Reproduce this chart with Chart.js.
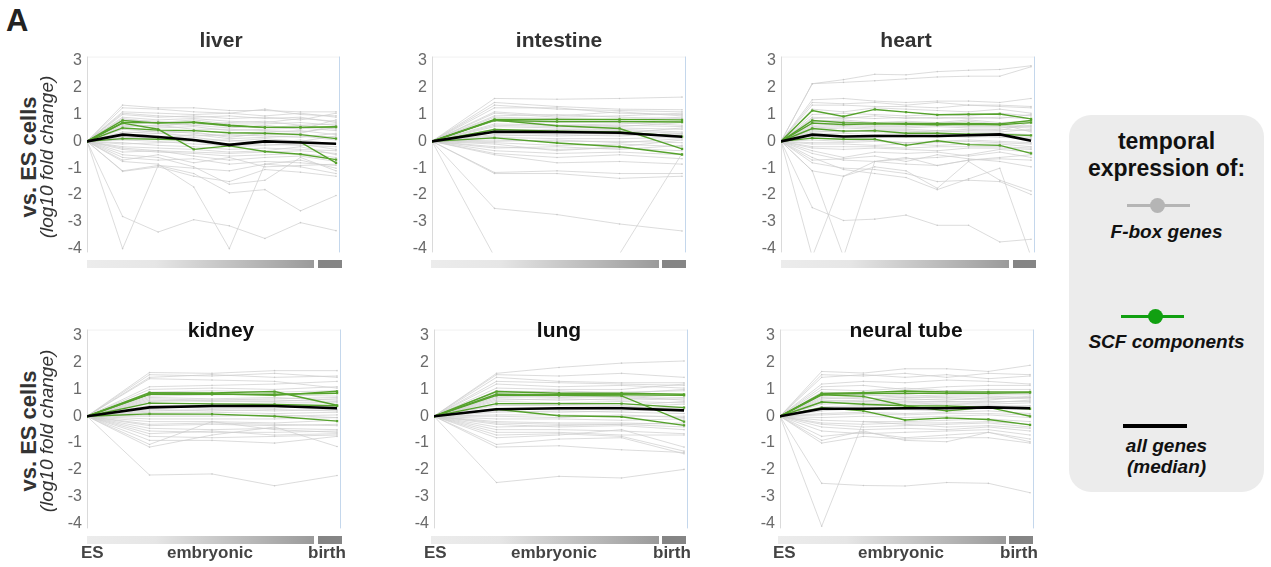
<!DOCTYPE html>
<html>
<head>
<meta charset="utf-8">
<script src="https://cdn.jsdelivr.net/npm/chart.js@4.4.1/dist/chart.umd.min.js"></script>
<style>
    body { margin: 0; background: #fff; font-family: "Liberation Sans", Arial, sans-serif; }
    #wrap { position: relative; width: 1271px; height: 567px; overflow: hidden; }
    canvas { position: absolute; }
    .lbl { position: absolute; white-space: nowrap; }
    .title { font-size: 21px; font-weight: bold; line-height: 24px; width: 200px; text-align: center; }
    .ytitle { width: 240px; text-align: center; transform: rotate(-90deg); color: #333; }
    .stage { font-size: 17px; font-weight: bold; color: #444; line-height: 20px; }
    .bar { position: absolute; height: 8px; }
    #legend { position: absolute; left: 1069px; top: 115px; width: 195px; height: 377px;
              background: #ececec; border-radius: 22px; }
    #legend .lbl { width: 195px; text-align: center; left: 0; color: #111; }
</style>
</head>
<body>
<div id="wrap">
    <div class="lbl" style="left:6px;top:3px;font-size:31px;font-weight:bold;color:#222;">A</div>
    <div id="legend">
        <div class="lbl" style="top:13px;font-size:23px;font-weight:bold;line-height:27px;">temporal<br>expression of:</div>
        <div style="position:absolute;left:58px;top:89px;width:63px;height:3px;background:#b5b5b5;"></div>
        <div style="position:absolute;left:81px;top:83px;width:15px;height:15px;border-radius:50%;background:#b5b5b5;"></div>
        <div class="lbl" style="top:106px;font-size:19px;font-weight:bold;font-style:italic;">F-box genes</div>
        <div style="position:absolute;left:52px;top:200px;width:63px;height:3px;background:#11a011;"></div>
        <div style="position:absolute;left:79px;top:194px;width:15px;height:15px;border-radius:50%;background:#11a011;"></div>
        <div class="lbl" style="top:216px;font-size:19px;font-weight:bold;font-style:italic;">SCF components</div>
        <div style="position:absolute;left:54px;top:309px;width:64px;height:4px;background:#000;"></div>
        <div class="lbl" style="top:320px;font-size:19px;font-weight:bold;font-style:italic;line-height:21px;">all genes<br>(median)</div>
    </div>
</div>

<script>
const tissues = ["liver", "intestine", "heart", "kidney", "lung", "neural tube"];
const yTicks = [-4, -3, -2, -1, 0, 1, 2, 3];
const stageLabels = ["ES", "embryonic", "birth"];

// liver: 8 time points
const liverFbox = [
    [0, -4.0, -0.9, -1.0, -1.1, -0.85, -0.7, -1.0],
    [0, -2.8, -3.38, -2.92, -3.15, -3.62, -3.03, -3.33],
    [0, -0.75, -0.85, -1.7, -4.0, -0.85, -0.95, -1.2],
    [0, -1.1, -0.9, -1.2, -1.92, -1.8, -2.59, -2.02],
    [0, -1.12, -0.95, -1.3, -1.5, -1.05, -1.15, -1.3],
    [0, -0.5, -0.6, -0.95, -1.6, -1.45, -0.6, -1.1],
    [0, 1.35, 1.25, 1.25, 1.15, 1.15, 1.1, 1.1],
    [0, 1.25, 1.2, 1.1, 1.05, 1.2, 1.0, 0.95],
    [0, 1.1, 1.05, 1.0, 1.05, 0.95, 1.05, 0.9],
    [0, 1.0, 0.9, 0.95, 0.85, 0.9, 0.8, 1.05],
    [0, 0.9, 0.8, 0.85, 0.75, 0.7, 0.85, 0.75],
    [0, 0.8, 0.75, 0.6, 0.7, 0.75, 0.6, 0.65],
    [0, 0.65, 0.55, 0.7, 0.55, 0.5, 0.6, 0.45],
    [0, 0.55, 0.6, 0.45, 0.45, 0.4, 0.35, 0.5],
    [0, 0.45, 0.35, 0.4, 0.3, 0.35, 0.4, 0.25],
    [0, 0.35, 0.3, 0.2, 0.25, 0.2, 0.15, 0.3],
    [0, 0.25, 0.15, 0.25, 0.1, 0.15, 0.2, 0.05],
    [0, 0.15, 0.1, 0.05, 0.05, -0.05, 0.05, -0.1],
    [0, 0.05, 0.0, -0.1, -0.15, -0.1, -0.15, -0.2],
    [0, -0.05, -0.15, -0.2, -0.3, -0.25, -0.3, -0.35],
    [0, -0.2, -0.25, -0.3, -0.4, -0.35, -0.2, -0.5],
    [0, -0.3, -0.4, -0.45, -0.55, -0.5, -0.45, -0.6],
    [0, -0.4, -0.35, -0.55, -0.7, -0.6, -0.55, -0.75],
    [0, -0.6, -0.7, -0.65, -0.85, -0.75, -0.8, -0.9],
    [0, -0.7, -0.5, -0.8, -0.6, -0.95, -0.9, -0.85],
    [0, 0.7, 0.65, 0.6, 0.5, 0.6, 0.45, 0.8],
    [0, 1.05, 0.95, 0.9, 0.95, 0.85, 0.9, 0.7],
    [0, 0.2, 0.3, 0.35, 0.15, 0.3, 0.3, 0.6],
    [0, 0.6, 0.5, 0.55, 0.4, 0.45, 0.5, 0.4],
    [0, 0.3, 0.4, 0.3, 0.2, 0.25, 0.25, 0.15],
    [0, 0.1, 0.2, 0.15, 0.0, 0.1, 0.0, 0.2],
    [0, -0.1, -0.05, 0.0, -0.2, -0.15, -0.1, -0.3],
    [0, -0.25, -0.35, -0.4, -0.45, -0.4, -0.35, -0.45],
    [0, 0.85, 0.7, 0.8, 0.65, 0.65, 0.7, 0.6]
];
const liverScf = [
    [0, 0.78, 0.68, 0.72, 0.60, 0.52, 0.52, 0.53],
    [0, 0.70, 0.70, 0.70, 0.58, 0.52, 0.52, 0.55],
    [0, 0.68, 0.45, -0.30, -0.17, -0.38, -0.48, -0.68],
    [0, 0.50, 0.42, 0.40, 0.32, 0.30, 0.25, 0.10],
    [0, 0.10, 0.08, 0.05, -0.12, 0.00, -0.03, -0.80]
];
const liverMedian = [0, 0.25, 0.16, 0.05, -0.13, 0.0, -0.04, -0.09];

// intestine: 5 time points
const intestineFbox = [
    [0, 1.6, 1.57, 1.6, 1.65],
    [0, 1.45, 1.3, 1.2, 1.18],
    [0, 1.35, 1.2, 1.15, 1.1],
    [0, 1.25, 1.25, 1.05, 1.0],
    [0, 1.1, 0.95, 1.1, 0.95],
    [0, 0.95, 1.0, 0.9, 0.85],
    [0, 0.9, 0.85, 0.8, 0.9],
    [0, 0.75, 0.7, 0.7, 0.6],
    [0, 0.65, 0.6, 0.55, 0.7],
    [0, 0.55, 0.5, 0.5, 0.45],
    [0, 0.45, 0.4, 0.45, 0.35],
    [0, 0.35, 0.3, 0.3, 0.5],
    [0, 0.25, 0.2, 0.25, 0.25],
    [0, 0.15, 0.1, 0.1, 0.15],
    [0, 0.05, 0.0, 0.0, -0.05],
    [0, -0.05, -0.15, -0.1, -0.2],
    [0, -0.2, -0.3, -0.25, -0.35],
    [0, -0.35, -0.45, -0.4, -0.5],
    [0, -0.45, -0.6, -0.5, -0.65],
    [0, -0.5, -0.8, -0.75, -0.85],
    [0, -1.16, -1.1, -1.2, -1.2],
    [0, -1.2, -1.2, -1.38, -1.3],
    [0, -2.5, -2.73, -3.08, -3.34],
    [0, -4.3, -5.0, -4.2, -0.45],
    [0, 0.8, 0.6, 0.65, 0.75],
    [0, -0.1, -0.35, -0.2, 0.05],
    [0, 0.6, 0.55, 0.6, 0.55],
    [0, 0.4, 0.45, 0.4, 0.3],
    [0, 0.2, 0.25, 0.2, 0.3],
    [0, 0.0, 0.05, -0.05, 0.1],
    [0, -0.25, -0.2, -0.3, -0.15],
    [0, 1.05, 0.9, 0.95, 1.05]
];
const intestineScf = [
    [0, 0.82, 0.82, 0.82, 0.80],
    [0, 0.78, 0.74, 0.74, 0.72],
    [0, 0.79, 0.58, 0.48, -0.28],
    [0, 0.44, 0.38, 0.35, 0.18],
    [0, 0.13, -0.06, -0.20, -0.49]
];
const intestineMedian = [0, 0.36, 0.35, 0.32, 0.17];

// heart: 9 time points
const heartFbox = [
    [0, 2.15, 2.3, 2.5, 2.48, 2.6, 2.65, 2.68, 2.82],
    [0, 2.15, 2.2, 2.26, 2.33, 2.4, 2.43, 2.43, 2.78],
    [0, -2.47, -2.95, -2.9, -2.75, -3.13, -3.13, -3.75, -3.65],
    [0, -4.3, -1.3, -0.75, -0.85, -0.9, -0.7, -0.6, -0.5],
    [0, -1.1, -4.3, -0.75, -0.65, -0.6, -0.5, -0.3, -0.4],
    [0, -0.6, -1.05, -1.2, -1.35, -1.8, -1.4, -1.0, -4.3],
    [0, -1.1, -1.3, -0.95, -1.1, -1.75, -0.75, -1.45, -1.85],
    [0, -0.8, -1.0, -1.05, -1.2, -1.5, -1.45, -1.5, -1.98],
    [0, 1.55, 1.6, 1.5, 1.45, 1.5, 1.5, 1.45, 1.6],
    [0, 1.45, 1.4, 1.45, 1.35, 1.45, 1.35, 1.35, 1.3],
    [0, 1.35, 1.35, 1.3, 1.3, 1.25, 1.35, 1.3, 1.25],
    [0, 1.2, 1.1, 1.25, 1.2, 1.15, 1.1, 1.2, 1.05],
    [0, 1.0, 1.05, 1.0, 0.95, 1.0, 0.95, 1.05, 0.95],
    [0, 0.9, 0.85, 0.95, 0.85, 0.9, 0.85, 0.9, 0.85],
    [0, 0.75, 0.8, 0.7, 0.75, 0.7, 0.8, 0.7, 0.75],
    [0, 0.6, 0.65, 0.6, 0.6, 0.65, 0.6, 0.6, 0.55],
    [0, 0.5, 0.55, 0.5, 0.5, 0.55, 0.5, 0.5, 0.6],
    [0, 0.4, 0.35, 0.4, 0.4, 0.35, 0.4, 0.45, 0.4],
    [0, 0.3, 0.3, 0.25, 0.3, 0.3, 0.3, 0.3, 0.25],
    [0, 0.2, 0.15, 0.15, 0.2, 0.15, 0.2, 0.15, 0.1],
    [0, 0.05, 0.0, 0.05, -0.05, 0.0, 0.05, 0.0, -0.05],
    [0, -0.1, -0.1, -0.15, -0.1, -0.15, -0.1, -0.1, -0.2],
    [0, -0.25, -0.3, -0.25, -0.3, -0.35, -0.25, -0.25, -0.3],
    [0, -0.35, -0.6, -0.4, -0.45, -0.4, -0.55, -0.4, -0.6],
    [0, -0.45, -0.7, -0.75, -0.6, -0.9, -0.7, -0.65, -0.7],
    [0, -0.7, -0.65, -0.55, -0.75, -0.5, -0.65, -0.75, -0.95],
    [0, 0.7, 0.75, 0.65, 0.7, 0.65, 0.75, 0.65, 0.35],
    [0, 0.45, 0.5, 0.45, 0.45, 0.4, 0.45, 0.4, 0.7],
    [0, 0.55, 0.6, 0.55, 0.55, 0.6, 0.55, 0.55, 0.5],
    [0, 0.35, 0.4, 0.35, 0.35, 0.4, 0.35, 0.35, 0.45],
    [0, 0.15, 0.2, 0.2, 0.15, 0.2, 0.15, 0.2, 0.15],
    [0, -0.05, -0.05, 0.0, -0.05, -0.05, 0.0, -0.05, -0.1],
    [0, -0.2, -0.2, -0.2, -0.25, -0.2, -0.2, -0.2, -0.25],
    [0, 0.85, 0.9, 0.85, 0.9, 0.85, 0.9, 0.85, 1.0]
];
const heartScf = [
    [0, 1.15, 0.93, 1.19, 1.09, 0.99, 1.01, 1.02, 0.84],
    [0, 0.78, 0.70, 0.68, 0.67, 0.67, 0.67, 0.65, 0.78],
    [0, 0.68, 0.63, 0.65, 0.64, 0.62, 0.64, 0.62, 0.70],
    [0, 0.48, 0.38, 0.40, 0.30, 0.30, 0.27, 0.26, 0.22],
    [0, 0.12, 0.08, 0.08, -0.15, 0.02, -0.12, -0.15, -0.45]
];
const heartMedian = [0, 0.25, 0.18, 0.20, 0.20, 0.20, 0.23, 0.26, 0.02];

// kidney: 5 time points
const kidneyFbox = [
    [0, 1.63, 1.6, 1.7, 1.7],
    [0, 1.55, 1.5, 1.6, 1.45],
    [0, 1.45, 1.55, 1.45, 1.5],
    [0, 1.4, 1.35, 1.3, 1.05],
    [0, 1.0, 1.05, 1.0, 1.1],
    [0, 0.9, 0.95, 0.9, 0.95],
    [0, 0.75, 0.8, 0.8, 0.75],
    [0, 0.7, 0.65, 0.7, 0.6],
    [0, 0.6, 0.55, 0.55, 0.65],
    [0, 0.5, 0.45, 0.5, 0.5],
    [0, 0.35, 0.3, 0.3, 0.4],
    [0, 0.25, 0.2, 0.25, 0.2],
    [0, 0.15, 0.15, 0.1, 0.15],
    [0, 0.05, 0.05, 0.0, 0.05],
    [0, -0.1, -0.1, -0.1, -0.05],
    [0, -0.2, -0.2, -0.25, -0.15],
    [0, -0.35, -0.3, -0.35, -0.3],
    [0, -0.45, -0.5, -0.45, -0.5],
    [0, -0.55, -0.6, -0.6, -0.55],
    [0, -0.65, -0.55, -0.7, -0.65],
    [0, -0.75, -0.8, -0.75, -0.7],
    [0, -0.9, -0.9, -1.0, -0.75],
    [0, -1.05, -0.2, -0.5, -0.6],
    [0, -1.15, -0.7, -0.4, -1.13],
    [0, -2.19, -2.15, -2.59, -2.21],
    [0, 1.1, 1.15, 1.2, 1.3],
    [0, 0.65, 0.6, 0.65, 0.7],
    [0, 0.4, 0.4, 0.4, 0.35],
    [0, 0.2, 0.25, 0.2, 0.25],
    [0, 0.0, 0.0, 0.05, -0.05],
    [0, -0.3, -0.25, -0.3, -0.35],
    [0, 0.55, 0.6, 0.6, 0.55]
];
const kidneyScf = [
    [0, 0.88, 0.87, 0.92, 0.41],
    [0, 0.83, 0.84, 0.78, 0.93],
    [0, 0.82, 0.82, 0.82, 0.86],
    [0, 0.49, 0.46, 0.44, 0.39],
    [0, 0.09, 0.08, 0.00, -0.18]
];
const kidneyMedian = [0, 0.33, 0.38, 0.38, 0.30];

// lung: 5 time points
const lungFbox = [
    [0, 1.6, 1.82, 1.98, 2.06],
    [0, 1.55, 1.5, 1.6, 1.45],
    [0, 1.45, 1.3, 1.25, 1.25],
    [0, 1.3, 1.25, 1.2, 1.15],
    [0, 1.2, 1.1, 1.15, 1.05],
    [0, 1.05, 1.0, 1.0, 1.2],
    [0, 0.95, 0.9, 0.9, 0.95],
    [0, 0.7, 0.75, 0.7, 0.8],
    [0, 0.6, 0.65, 0.6, 0.65],
    [0, 0.55, 0.5, 0.55, 0.5],
    [0, 0.4, 0.4, 0.35, 0.45],
    [0, 0.3, 0.25, 0.3, 0.35],
    [0, 0.15, 0.2, 0.15, 0.1],
    [0, 0.05, 0.05, 0.0, 0.0],
    [0, -0.1, -0.1, -0.15, -0.1],
    [0, -0.2, -0.25, -0.25, -0.3],
    [0, -0.3, -0.4, -0.35, -0.5],
    [0, -0.5, -0.5, -0.55, -0.65],
    [0, -0.6, -0.6, -0.7, -0.7],
    [0, -0.7, -0.65, -0.75, -1.3],
    [0, -1.05, -0.85, -0.8, -1.4],
    [0, -1.15, -1.1, -1.25, -1.35],
    [0, -0.8, -0.7, -0.5, -1.15],
    [0, -2.47, -2.24, -2.3, -1.98],
    [0, 0.85, 0.95, 0.85, 1.0],
    [0, -0.4, -0.35, -0.3, -0.25],
    [0, 0.65, 0.6, 0.65, 0.7],
    [0, 0.45, 0.45, 0.4, 0.55],
    [0, 0.2, 0.15, 0.2, 0.25],
    [0, 0.0, -0.05, 0.05, -0.05],
    [0, -0.25, -0.3, -0.3, -0.4],
    [0, 0.75, 0.7, 0.75, 0.6]
];
const lungScf = [
    [0, 0.92, 0.86, 0.86, 0.82],
    [0, 0.82, 0.80, 0.80, 0.78],
    [0, 0.78, 0.78, 0.76, -0.20],
    [0, 0.47, 0.47, 0.47, 0.32],
    [0, 0.26, 0.02, -0.02, -0.34]
];
const lungMedian = [0, 0.26, 0.30, 0.30, 0.22];

// neural tube: 7 time points
const neuralFbox = [
    [0, 1.67, 1.61, 1.77, 1.77, 1.67, 1.9],
    [0, 1.55, 1.5, 1.6, 1.45, 1.6, 1.55],
    [0, 1.45, 1.55, 1.45, 1.55, 1.4, 1.5],
    [0, 1.2, 1.3, 1.25, 1.35, 1.3, 1.2],
    [0, 1.1, 1.15, 1.0, 1.1, 1.15, 1.15],
    [0, 1.0, 0.95, 1.05, 0.95, 1.0, 1.0],
    [0, 0.9, 0.85, 0.85, 0.85, 0.9, 0.85],
    [0, 0.75, 0.8, 0.7, 0.75, 0.75, 0.7],
    [0, 0.65, 0.7, 0.6, 0.65, 0.6, 0.75],
    [0, 0.55, 0.6, 0.55, 0.55, 0.5, 0.6],
    [0, 0.45, 0.5, 0.45, 0.5, 0.45, 0.5],
    [0, 0.35, 0.4, 0.4, 0.45, 0.4, 0.35],
    [0, 0.2, 0.3, 0.25, 0.2, 0.3, 0.25],
    [0, 0.1, 0.15, 0.1, 0.15, 0.2, 0.1],
    [0, -0.05, 0.0, -0.05, 0.0, 0.05, -0.05],
    [0, -0.15, -0.2, -0.2, -0.15, -0.1, -0.2],
    [0, -0.3, -0.4, -0.35, -0.3, -0.25, -0.4],
    [0, -0.4, -0.5, -0.45, -0.5, -0.4, -0.55],
    [0, -0.55, -0.65, -0.6, -0.55, -0.5, -0.7],
    [0, -0.75, -0.6, -0.8, -0.7, -0.6, -0.85],
    [0, -0.9, -0.55, -0.9, -0.95, -0.6, -0.95],
    [0, -1.0, -0.75, -0.85, -0.8, -0.8, -1.0],
    [0, -4.1, -0.2, -0.3, -0.4, -0.35, -0.45],
    [0, -2.5, -2.58, -2.6, -2.47, -2.5, -2.85],
    [0, 0.8, 0.9, 0.8, 0.95, 0.85, 0.9],
    [0, 0.6, 0.55, 0.65, 0.6, 0.7, 0.65],
    [0, 0.7, 0.65, 0.7, 0.7, 0.65, 0.7],
    [0, 0.5, 0.55, 0.5, 0.55, 0.55, 0.55],
    [0, 0.3, 0.35, 0.3, 0.35, 0.35, 0.4],
    [0, 0.05, 0.1, 0.05, 0.1, 0.1, 0.05],
    [0, -0.25, -0.3, -0.25, -0.25, -0.2, -0.3],
    [0, 0.85, 0.8, 0.75, 0.8, 0.8, 0.8]
];
const neuralScf = [
    [0, 0.85, 0.88, 0.94, 0.91, 0.91, 0.91],
    [0, 0.82, 0.85, 0.86, 0.86, 0.86, 0.88],
    [0, 0.80, 0.74, 0.39, 0.20, 0.33, 0.00],
    [0, 0.53, 0.45, 0.39, 0.38, 0.33, 0.28],
    [0, 0.32, 0.20, -0.14, -0.06, -0.12, -0.32]
];
const neuralMedian = [0, 0.28, 0.28, 0.30, 0.30, 0.33, 0.30];

const fboxSets = [liverFbox, intestineFbox, heartFbox, kidneyFbox, lungFbox, neuralFbox];
const scfSets = [liverScf, intestineScf, heartScf, kidneyScf, lungScf, neuralScf];
const medianSets = [liverMedian, intestineMedian, heartMedian, kidneyMedian, lungMedian, neuralMedian];

// layout of the six panels (pixels)
const panels = [
    { left: 87, right: 344, top: 52, bottom: 257, ymin: -4.14, ymax: 3.16, tx: 221, ty: 28, tc: "#333", bar: [87, 314, 318, 342, 260] },
    { left: 432, right: 690, top: 52, bottom: 257, ymin: -4.14, ymax: 3.16, tx: 559, ty: 28, tc: "#333", bar: [431, 659, 662, 686, 260] },
    { left: 781, right: 1039, top: 52, bottom: 257, ymin: -4.14, ymax: 3.16, tx: 906, ty: 28, tc: "#333", bar: [781, 1009, 1013, 1036, 260] },
    { left: 87, right: 345, top: 325, bottom: 533, ymin: -4.18, ymax: 3.23, tx: 221, ty: 318, tc: "#111", bar: [87, 314, 318, 342, 536], stages: [81, 167, 308] },
    { left: 434, right: 692, top: 325, bottom: 533, ymin: -4.18, ymax: 3.23, tx: 559, ty: 318, tc: "#111", bar: [431, 659, 662, 686, 536], stages: [424, 511, 653] },
    { left: 780, right: 1038, top: 325, bottom: 533, ymin: -4.18, ymax: 3.23, tx: 906, ty: 318, tc: "#111", bar: [778, 1006, 1009, 1033, 536], stages: [773, 858, 1000] }
];

const AXIS_W = 35;
const PAD = 10;
const FONT = '"Liberation Sans", Arial, sans-serif';

const framePlugin = {
    id: "frame",
    beforeDatasetsDraw(chart) {
        let ctx = chart.ctx;
        let a = chart.chartArea;
        ctx.save();
        ctx.lineWidth = 1;
        ctx.strokeStyle = "#f1f1f1";
        ctx.beginPath(); ctx.moveTo(a.left, a.top + 0.5); ctx.lineTo(a.right, a.top + 0.5); ctx.stroke();
        ctx.strokeStyle = "#dadada";
        ctx.beginPath(); ctx.moveTo(a.left + 0.5, a.top); ctx.lineTo(a.left + 0.5, a.bottom); ctx.stroke();
        ctx.strokeStyle = "#c4d7ec";
        ctx.beginPath(); ctx.moveTo(a.right - 0.5, a.top); ctx.lineTo(a.right - 0.5, a.bottom); ctx.stroke();
        ctx.restore();
    }
};

function toPoints(arr) {
    return arr.map((v, i) => ({ x: i, y: v }));
}

function addLabel(html, cls, style) {
    let d = document.createElement("div");
    d.className = "lbl " + cls;
    d.innerHTML = html;
    d.setAttribute("style", style);
    document.getElementById("wrap").appendChild(d);
}

function addBar(left, right, top, bg) {
    let d = document.createElement("div");
    d.className = "bar";
    d.style.left = left + "px";
    d.style.width = (right - left) + "px";
    d.style.top = top + "px";
    d.style.background = bg;
    document.getElementById("wrap").appendChild(d);
}

function drawPanel(p, idx) {
    let wrap = document.getElementById("wrap");
    let canvas = document.createElement("canvas");
    let w = p.right - p.left + AXIS_W;
    let h = p.bottom - p.top + 2 * PAD;
    canvas.width = w;
    canvas.height = h;
    canvas.style.left = (p.left - AXIS_W) + "px";
    canvas.style.top = (p.top - PAD) + "px";
    canvas.style.width = w + "px";
    canvas.style.height = h + "px";
    wrap.appendChild(canvas);

    let n = medianSets[idx].length;
    let plotW = p.right - p.left;
    let xmax = (n - 1) * plotW / (plotW - 4);

    let datasets = [];
    datasets.push({
        data: toPoints(medianSets[idx]),
        borderColor: "#000", borderWidth: 2.6, pointRadius: 0, order: 0
    });
    scfSets[idx].forEach(row => {
        datasets.push({
            data: toPoints(row),
            borderColor: "#55a22c", borderWidth: 1.4,
            pointStyle: "rect", pointRadius: 1.6, pointBorderWidth: 0,
            pointBackgroundColor: "#55a22c", order: 1
        });
    });
    fboxSets[idx].forEach(row => {
        datasets.push({
            data: toPoints(row),
            borderColor: "rgba(205,205,205,0.7)", borderWidth: 1,
            pointRadius: 0.8, pointBorderWidth: 0,
            pointBackgroundColor: "rgba(195,195,195,0.8)", order: 2
        });
    });

    new Chart(canvas, {
        type: "line",
        data: { datasets: datasets },
        options: {
            responsive: false,
            animation: false,
            events: [],
            layout: { padding: { top: PAD, bottom: PAD, left: 0, right: 0 } },
            plugins: { legend: { display: false }, tooltip: { enabled: false } },
            elements: { line: { tension: 0 } },
            scales: {
                x: { type: "linear", display: false, min: 0, max: xmax },
                y: {
                    min: p.ymin, max: p.ymax,
                    grid: { display: false, drawTicks: false },
                    border: { display: false },
                    ticks: { color: "#6a6a6a", padding: 5, font: { size: 16, family: FONT } },
                    afterBuildTicks(scale) { scale.ticks = yTicks.map(v => ({ value: v })); },
                    afterFit(scale) { scale.width = AXIS_W; }
                }
            }
        },
        plugins: [framePlugin]
    });

    addLabel(tissues[idx], "title", `left:${p.tx - 100}px;top:${p.ty}px;color:${p.tc};`);

    let b = p.bar;
    addBar(b[0], b[1], b[4], "linear-gradient(to right, #ececec 0%, #e6e6e6 30%, #9a9a9a 100%)");
    addBar(b[2], b[3], b[4], "#858585");

    if (p.stages) {
        p.stages.forEach((x, i) => {
            addLabel(stageLabels[i], "stage", `left:${x}px;top:543px;`);
        });
    }
}

function drawAxisTitles() {
    [157, 431].forEach(cy => {
        addLabel("vs. ES cells", "ytitle",
            `left:${29 - 120}px;top:${cy - 13}px;font-size:22px;font-weight:bold;line-height:26px;`);
        addLabel("(log10 fold change)", "ytitle",
            `left:${47 - 120}px;top:${cy - 11}px;font-size:19px;font-style:italic;line-height:22px;`);
    });
}

document.addEventListener("DOMContentLoaded", function () {
    panels.forEach((p, i) => drawPanel(p, i));
    drawAxisTitles();
});
</script>
</body>
</html>
